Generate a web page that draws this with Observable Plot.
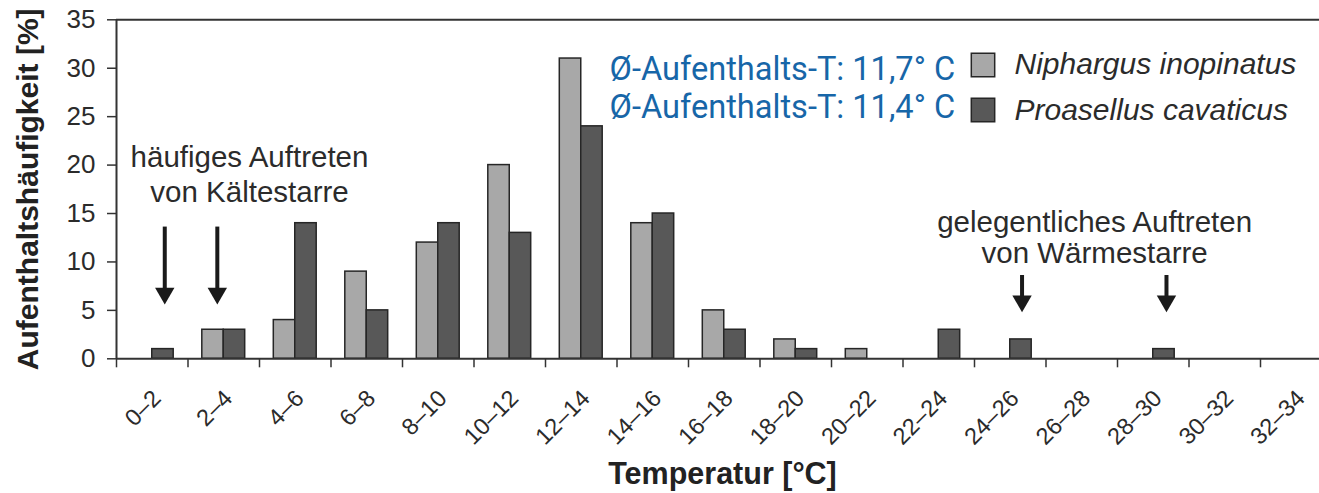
<!DOCTYPE html>
<html><head><meta charset="utf-8">
<script src="https://cdn.jsdelivr.net/npm/d3@7"></script>
<script src="https://cdn.jsdelivr.net/npm/@observablehq/plot@0.6"></script>
<style>
html,body{margin:0;padding:0;background:#fff;}
#chart svg{display:block;}
</style></head><body><div id="chart"></div>
<script>
// ---- data ----
const categories = ["0–2","2–4","4–6","6–8","8–10","10–12","12–14","14–16","16–18","18–20","20–22","22–24","24–26","26–28","28–30","30–32","32–34"];
const binStarts = [0,2,4,6,8,10,12,14,16,18,20,22,24,26,28,30,32];
const niphargus = [0,3,4,9,12,20,31,14,5,2,1,0,0,0,0,0,0];
const proasellus = [1,3,14,5,14,13,24,15,3,1,0,3,2,0,1,0,0];
const yTicks = [0,5,10,15,20,25,30,35];
const seriesNames = ["Niphargus inopinatus","Proasellus cavaticus"];
const meanTemps = ["Ø-Aufenthalts-T: 11,7° C","Ø-Aufenthalts-T: 11,4° C"];
const coldNote = ["häufiges Auftreten\nvon Kältestarre"];
const warmNote = ["gelegentliches Auftreten\nvon Wärmestarre"];
// annotation anchors in data units (temperature, %)
const coldNoteAt = {x: 3.72, y: 16.24};
const warmNoteAt = {x: 27.36, y: 9.84};
const arrowX = [1.35, 2.82, 25.33, 29.37];
const arrowTop = [13.6, 13.6, 8.6, 8.6];
const arrowTip = [5.6, 5.6, 4.8, 4.8];

// ---- styles ----
const LIGHT = "#a8a8a8", DARK = "#585858", EDGE = "#262626", INK = "#2b2b2b", BLUE = "#1766a8";
const W = 0.6; // bar width in temperature units

const rowsN = binStarts.map((lo, i) => ({lo, v: niphargus[i]})).filter(d => d.v > 0);
const rowsP = binStarts.map((lo, i) => ({lo, v: proasellus[i]})).filter(d => d.v > 0);
const arrows = arrowX.map((x, i) => ({x, top: arrowTop[i], tip: arrowTip[i]}));

const L = 116, T = 19.3; // frame origin for legend offsets
const legend = (i) => [
  Plot.text([meanTemps[i]], {frameAnchor: "top-left", dx: 609 - L, dy: [79, 117][i] - T, lineAnchor: "bottom", textAnchor: "start", fill: BLUE, fontSize: 32.6, fontFamily: "Roboto"}),
  Plot.dot([0], {frameAnchor: "top-left", dx: 982.5 - L, dy: [64.5, 109.5][i] - T, symbol: "square", r: 13.2, fill: [LIGHT, DARK][i], stroke: EDGE, strokeWidth: 1.5}),
  Plot.text([seriesNames[i]], {frameAnchor: "top-left", dx: 1014 - L, dy: [73, 119][i] - T, lineAnchor: "bottom", textAnchor: "start", fontStyle: "italic", fontSize: 30, fill: INK})
];

const chart = Plot.plot({
  width: 1319,
  height: 493,
  marginLeft: L,
  marginRight: 0,
  marginTop: T,
  marginBottom: 493 - 358.3,
  style: {fontFamily: "'Liberation Sans', Arial, sans-serif", color: INK, background: "#fff", overflow: "hidden"},
  x: {domain: [0, 34], range: [116, 1331.5]},
  y: {domain: [0, 35]},
  marks: [
    Plot.rect(rowsN, {x1: d => d.lo + 1 - W, x2: d => d.lo + 1, y1: () => 0, y2: "v", fill: LIGHT, stroke: EDGE, strokeWidth: 1.5}),
    Plot.rect(rowsP, {x1: d => d.lo + 1, x2: d => d.lo + 1 + W, y1: () => 0, y2: "v", fill: DARK, stroke: EDGE, strokeWidth: 1.5}),
    Plot.ruleY([35], {stroke: "#333", strokeWidth: 2}),
    Plot.ruleY([0], {stroke: "#333", strokeWidth: 2}),
    Plot.ruleX([0], {y1: 0, y2: 35, stroke: "#333", strokeWidth: 2}),
    Plot.axisY(yTicks, {tickSize: 9, tickPadding: 12, fontSize: 26, label: null, stroke: "#333", strokeWidth: 1.5}),
    Plot.axisX(binStarts, {tickSize: 9, tickFormat: () => "", label: null, stroke: "#333", strokeWidth: 1.5}),
    Plot.text(categories, {x: (d, i) => binStarts[i] + 1, frameAnchor: "bottom", text: d => d, rotate: -45, textAnchor: "end", dx: 10, dy: 41, fontSize: 23.5, fill: INK}),
    Plot.text(["Temperatur [°C]"], {frameAnchor: "bottom", dx: 4.5, dy: 483 - 358.3, lineAnchor: "bottom", fontSize: 30.5, fontWeight: "bold", fill: "#222"}),
    Plot.text(["Aufenthaltshäufigkeit [%]"], {frameAnchor: "left", dx: 37 - L, rotate: -90, textAnchor: "middle", lineAnchor: "bottom", fontSize: 30, fontWeight: "bold", fill: "#222"}),
    Plot.text(coldNote, {x: () => coldNoteAt.x, y: () => coldNoteAt.y, lineAnchor: "bottom", lineHeight: 1.17, fontSize: 29.5, fill: INK}),
    Plot.text(warmNote, {x: () => warmNoteAt.x, y: () => warmNoteAt.y, lineAnchor: "bottom", lineHeight: 1.06, fontSize: 29.5, fill: INK}),
    Plot.ruleX(arrows, {x: "x", y1: "top", y2: d => d.tip + 1, stroke: "#1a1a1a", strokeWidth: 4}),
    Plot.dot(arrows, {x: "x", y: "tip", symbol: "triangle", r: 7.2, rotate: 180, dy: -11.2, fill: "#1a1a1a", stroke: null}),
    ...legend(0),
    ...legend(1)
  ]
});
document.getElementById("chart").appendChild(chart);
</script>
</body></html>
